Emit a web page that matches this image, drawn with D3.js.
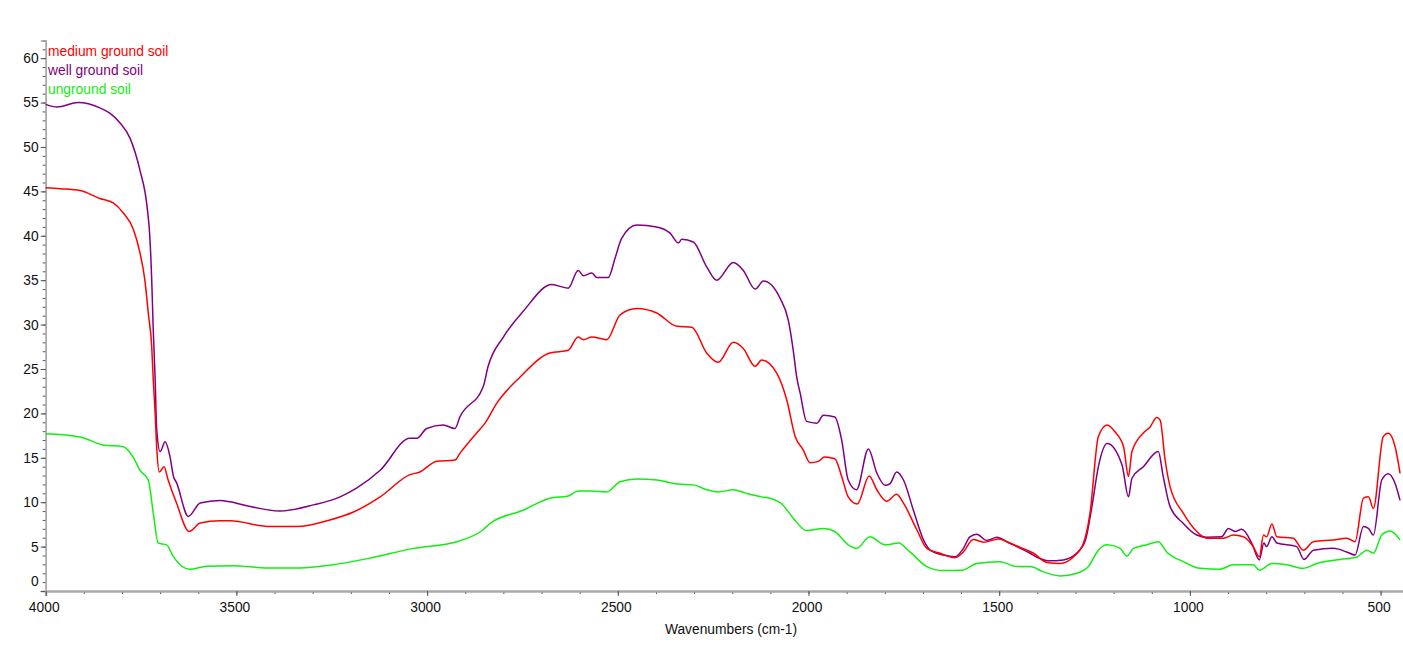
<!DOCTYPE html>
<html><head><meta charset="utf-8">
<script src="https://cdn.jsdelivr.net/npm/d3@7"></script>
<style>
body{margin:0;background:#fff}
svg{display:block}
text{font-family:"Liberation Sans",Arial,sans-serif}
</style>
</head><body>
<svg id="chart" width="1403" height="651"></svg>
<script>
// ---- data ----
const seriesNames = ["medium ground soil", "well ground soil", "unground soil"];
const xTickValues = [4000, 3500, 3000, 2500, 2000, 1500, 1000, 500];
const yTickValues = [0, 5, 10, 15, 20, 25, 30, 35, 40, 45, 50, 55, 60];
const xTitle = "Wavenumbers (cm-1)";

const mediumWn = [4000,3962,3910,3858,3823,3797,3770,3753,3740,3731,3722,3718,3713,3709,3702,3690,3679,3657,3624,3595,3543,3517,3412,3342,3255,3193,3123,3045,3019,2975,2927,2914,2870,2848,2818,2756,2678,2630,2604,2590,2568,2529,2494,2450,2398,2345,2306,2267,2237,2197,2171,2140,2123,2083,2057,2035,2014,1996,1974,1958,1931,1913,1896,1872,1841,1821,1795,1769,1751,1716,1690,1655,1616,1594,1568,1541,1502,1472,1445,1410,1375,1340,1305,1279,1262,1240,1217,1196,1174,1161,1152,1122,1104,1087,1078,1065,1052,1017,982,956,912,886,860,834,818,807,799,785,772,729,703,676,624,589,567,545,532,519,493,480,462,449];
const mediumVal = [45.4,45.3,45.1,44.2,43.7,42.6,40.7,38.1,35.0,31.3,27.5,23.8,20.0,16.2,13.4,14.0,12.5,9.9,6.7,7.65,7.9,7.9,7.25,7.25,8.0,8.9,10.6,13.1,13.4,14.6,14.75,15.5,17.8,18.9,21.1,24.1,26.8,27.1,28.6,28.3,28.6,28.3,31.1,31.8,31.3,29.8,29.7,26.8,25.75,28.0,27.3,25.3,26.0,24.5,21.5,17.4,15.9,14.45,14.6,15.1,14.9,12.9,10.6,9.8,12.95,11.4,10.1,10.9,9.9,6.9,4.8,4.25,3.75,4.4,5.8,5.5,5.85,5.4,4.9,4.25,3.2,3.1,3.85,5.4,8.75,17.4,18.7,17.9,16.25,12.9,15.7,17.8,18.5,19.55,19.25,14.75,11.75,8.75,6.7,5.95,5.95,6.3,6.1,5.0,3.85,6.3,6.1,7.55,6.1,5.95,4.6,5.55,5.75,5.95,5.55,10.45,10.6,9.3,17.4,17.75,16.25,13.25];

const wellWn = [4000,3970,3915,3858,3832,3805,3779,3753,3734,3727,3722,3718,3713,3709,3700,3687,3674,3665,3657,3626,3595,3543,3517,3473,3386,3298,3228,3184,3123,3045,3027,3001,2958,2927,2914,2853,2840,2800,2748,2673,2630,2604,2590,2568,2555,2525,2507,2490,2450,2398,2363,2341,2332,2302,2267,2241,2197,2171,2140,2118,2075,2053,2040,2031,2022,2005,1978,1961,1931,1913,1896,1874,1843,1821,1799,1786,1769,1751,1725,1698,1681,1647,1616,1594,1577,1559,1533,1506,1480,1454,1419,1401,1371,1332,1296,1274,1257,1240,1217,1178,1161,1152,1122,1083,1070,1052,1017,982,956,917,899,882,864,838,818,806,799,785,772,720,701,676,624,589,567,545,532,519,497,480,462,449];
const wellVal = [54.8,54.5,55.0,54.4,53.8,52.7,51.0,47.4,43.2,39.9,35.0,29.4,23.8,18.2,15.7,16.8,15.1,12.9,12.2,8.4,9.9,10.2,10.05,9.6,9.0,9.7,10.6,11.6,13.6,17.2,17.2,18.3,18.7,18.3,19.6,23.0,25.3,28.6,31.5,34.5,34.1,36.1,35.5,35.8,35.3,35.3,37.5,39.7,41.2,41.0,40.3,39.2,39.6,39.3,36.5,35.0,37.0,36.1,34.0,34.9,33.0,30.5,27.1,24.1,22.3,19.1,18.9,19.8,19.6,17.0,12.5,11.4,16.0,13.3,11.9,12.1,13.4,12.5,9.1,5.7,4.6,4.05,3.85,4.8,6.1,6.4,5.7,6.05,5.55,5.0,4.25,3.8,3.4,3.5,4.3,5.7,9.5,14.0,16.6,14.2,10.6,12.7,14.0,15.7,12.9,9.5,7.6,6.3,6.05,6.1,7.05,6.7,6.95,5.4,3.5,5.4,5.0,6.1,5.4,5.0,3.55,4.6,4.8,4.4,4.05,7.25,7.05,6.3,12.5,13.2,12.1,10.2];

const ungroundWn = [4000,3910,3850,3797,3771,3753,3731,3718,3705,3683,3665,3622,3578,3509,3421,3333,3255,3150,3036,2922,2853,2835,2748,2678,2630,2604,2573,2529,2494,2450,2398,2345,2302,2267,2237,2197,2167,2123,2101,2070,2040,2005,1961,1931,1896,1874,1839,1799,1764,1734,1690,1647,1598,1559,1498,1454,1419,1384,1340,1296,1266,1240,1217,1183,1165,1148,1113,1083,1061,1017,973,921,886,834,818,785,746,703,667,606,563,536,519,497,475,449];
const ungroundVal = [17.7,17.35,16.45,16.25,15.1,13.6,12.5,8.8,5.4,5.2,3.85,2.45,2.8,2.85,2.6,2.6,2.9,3.7,4.8,5.55,6.9,7.6,9.1,10.45,10.7,11.25,11.25,11.15,12.3,12.6,12.5,12.05,11.95,11.4,11.15,11.4,11.05,10.6,10.45,9.8,8.2,6.8,7.05,6.7,5.2,4.8,6.1,5.2,5.4,4.4,2.75,2.3,2.35,3.1,3.3,2.75,2.75,2.15,1.7,2.0,2.75,4.6,5.2,4.8,3.95,4.8,5.2,5.55,4.4,3.3,2.55,2.45,2.95,2.95,2.35,3.1,2.95,2.55,3.1,3.55,3.8,4.6,4.25,6.3,6.75,5.75];

// ---- drawing ----
const colors = ["#ff0000", "#800080", "#11ee11"];
const svg = d3.select("#chart");
const x = d3.scaleLinear().domain([4000, 440]).range([45.7, 1403.5]);
const y = d3.scaleLinear().domain([0, 62]).range([591, 40.4]);
const fontSize = "13.8px";

// y axis
const yMinor = d3.range(0, 63, 1);
const gyMinor = svg.append("g").attr("transform", "translate(45.7,0)")
  .call(d3.axisLeft(y).tickValues(yMinor).tickSize(3).tickFormat(""));
const gy = svg.append("g").attr("transform", "translate(45.7,0)")
  .call(d3.axisLeft(y).tickValues(yTickValues).tickSize(5).tickPadding(2));
[gyMinor, gy].forEach(g => {
  g.select(".domain").attr("stroke", "#aaaaaa").attr("stroke-width", 1.5);
  g.selectAll(".tick line").attr("stroke", "#555");
});
gy.selectAll(".tick text").attr("font-size", fontSize).attr("fill", "#111")
  .attr("font-family", "'Liberation Sans', Arial, sans-serif")
  .attr("dy", d => d === 0 ? "-0.4em" : "0.32em");

// x axis
const xMinor = d3.range(4000, 439, -100);
const gxMinor = svg.append("g").attr("transform", "translate(0,591)")
  .call(d3.axisBottom(x).tickValues(xMinor).tickSize(3).tickFormat(""));
const gx = svg.append("g").attr("transform", "translate(0,591)")
  .call(d3.axisBottom(x).tickValues(xTickValues).tickSize(5).tickPadding(6).tickFormat(d3.format("d")));
[gxMinor, gx].forEach(g => {
  g.select(".domain").attr("stroke", "#aaaaaa").attr("stroke-width", 2);
  g.selectAll(".tick line").attr("stroke", "#555");
});
gx.selectAll(".tick text").attr("font-size", fontSize).attr("fill", "#111")
  .attr("font-family", "'Liberation Sans', Arial, sans-serif")
  .attr("dx", "-2");

svg.append("text").attr("x", 731).attr("y", 634).attr("text-anchor", "middle")
  .attr("font-size", fontSize).attr("fill", "#111").text(xTitle);

// lines
const series = [
  {wn: wellWn, val: wellVal, c: 1},
  {wn: ungroundWn, val: ungroundVal, c: 2},
  {wn: mediumWn, val: mediumVal, c: 0}
];
const line = d3.line().x(d => x(d[0])).y(d => y(d[1])).curve(d3.curveMonotoneX);
series.forEach(s => {
  const pts = s.wn.map((w, i) => [w, s.val[i]]);
  svg.append("path").datum(pts).attr("d", line)
    .attr("fill", "none").attr("stroke", colors[s.c]).attr("stroke-width", 1.5)
    .attr("stroke-linejoin", "round");
});

// legend
seriesNames.forEach((n, i) => {
  svg.append("text").attr("x", 48).attr("y", 56 + i * 18.8)
    .attr("font-size", fontSize).attr("fill", colors[i]).text(n);
});
</script>
</body></html>
